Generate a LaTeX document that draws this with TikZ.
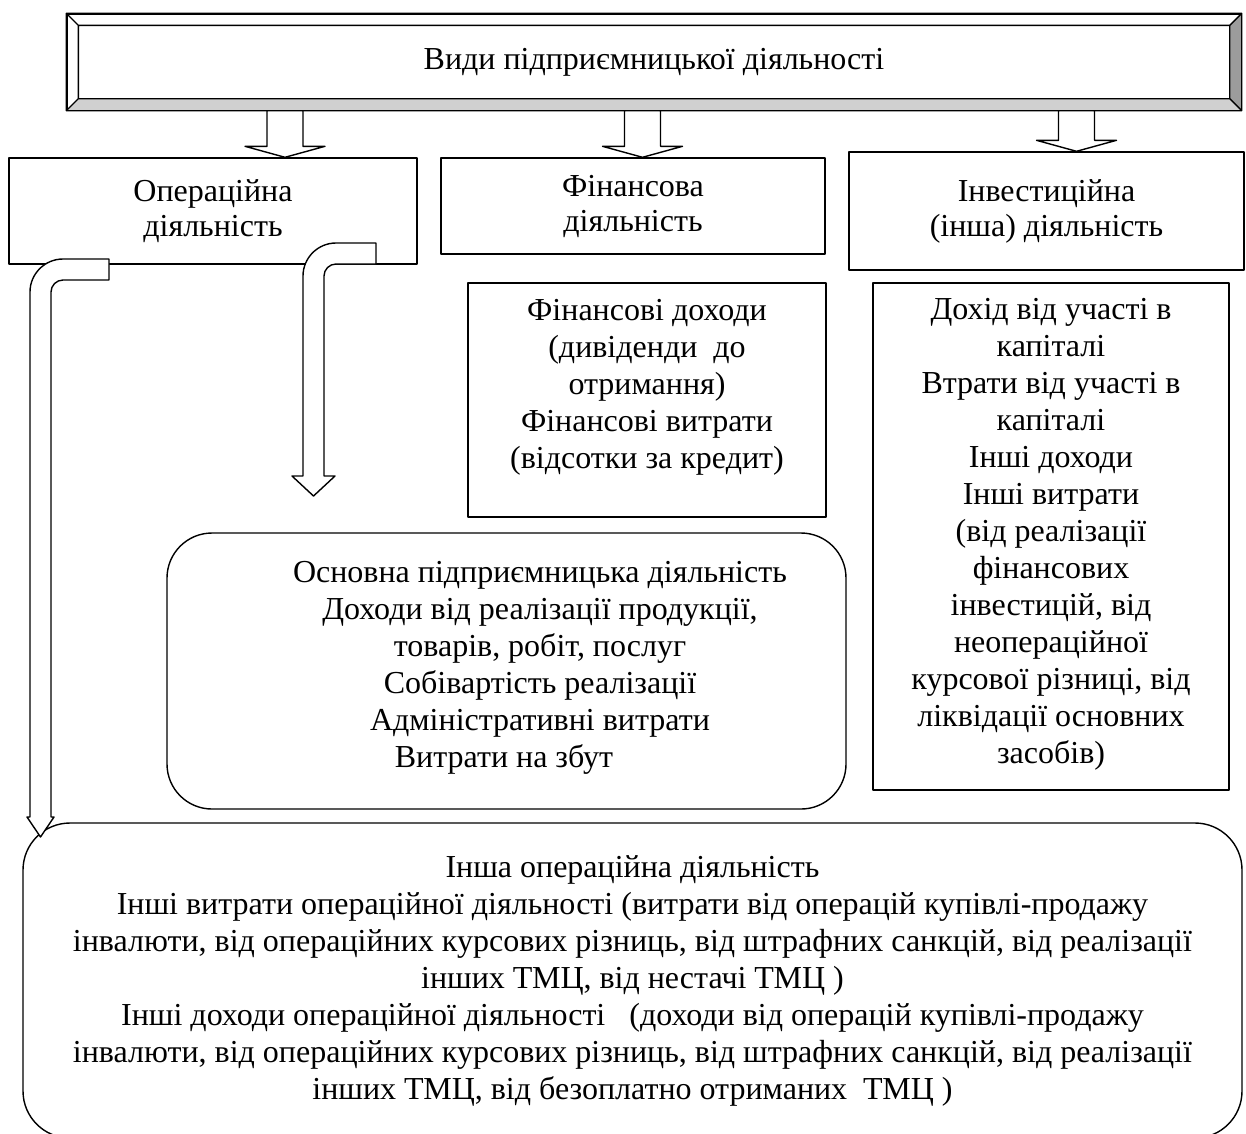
\documentclass[tikz,border=0pt]{standalone}
\usepackage{fontspec}
\setmainfont{Liberation Serif}
\usetikzlibrary{calc}
\definecolor{bevdark}{HTML}{9C9C9C}
\definecolor{bevlight}{HTML}{D0D0D0}
\newcommand\txtsize{\fontsize{32}{37}\selectfont}
\newcommand\dnarrow[3]{\draw[barrow](#2.north -| #3)--++(-40,-11)--++(22,0)--($(#1.south -| #3)+(-18,0)$)--++(36,0)--($(#2.north -| #3)+(18,-11)$)--++(22,0)--cycle;}
\newcommand\bentarrow[3]{\draw[barrow](#1)--($(#1 -| #2)+(22.5,0)$).. controls +(-18.2,0) and +(0,-18.2) ..++(-33,33)--($(#2)+(-10.5,-20)$)--++({-(#3-10.5)},0)--(#2)--++(#3,-20)--++({-(#3-10.5)},0)--($(#1 -| #2)+(10.5,33)$).. controls +(0,-6.6) and +(-6.6,0) ..++(12,-12)--($(#1)+(0,21)$)--cycle;}
\begin{document}
\begin{tikzpicture}[x=1pt,y=-1pt,line join=round,line width=1.4pt,font=\txtsize]
	\tikzset{box/.style={draw,align=center,inner sep=0pt},
	kind/.style={box,font=\fontsize{32}{35}\selectfont},
	rbox/.style={box,rounded corners=#1},
	txt/.style={align=center,inner sep=0pt},
	barrow/.style={draw,fill=white}}
	\useasboundingbox(0,0)rectangle(1246,1133);
	\clip(0,0)rectangle(1246,1133);
	\node[box,minimum width=1174pt,minimum height=96pt](title)at(654,62){Види підприємницької діяльності};
	\coordinate(inw)at($(title.north west)+(12,12)$);
	\coordinate(ine)at($(title.north east)+(-12,12)$);
	\coordinate(isw)at($(title.south west)+(12,-12)$);
	\coordinate(ise)at($(title.south east)+(-12,-12)$);
	\fill[bevdark](title.north east)--(title.south east)--(ise)--(ine)--cycle;
	\fill[bevlight](title.south west)--(title.south east)--(ise)--(isw)--cycle;
	\draw(title.north west)rectangle(title.south east)(inw)rectangle(ise)(title.north west)--(inw)(title.north east)--(ine)(title.south west)--(isw)(title.south east)--(ise);
	\node[kind,minimum width=408pt,minimum height=106pt](op)at(213,211){Операційна\\діяльність};
	\node[kind,minimum width=384pt,minimum height=96pt](fin)at(633,206){Фінансова\\діяльність};
	\node[kind,minimum width=395pt,minimum height=118pt](inv)at(1046.5,211){Інвестиційна\\(інша) діяльність};
	\coordinate(a1)at(285,0);
	\coordinate(a2)at(642.5,0);
	\coordinate(a3)at(1076.5,0);
	\dnarrow{title}{op}{a1}
	\dnarrow{title}{fin}{a2}
	\dnarrow{title}{inv}{a3}
	\node[box,minimum width=358pt,minimum height=234pt](finx)at(647,400){};
	\node[txt](fint)at([yshift=13pt]finx.center){Фінансові доходи\\(дивіденди~ до\\отримання)\\Фінансові витрати\\(відсотки за кредит)};
	\node[box,minimum width=356pt,minimum height=507pt](invx)at(1051,536.5){};
	\node[txt](invt)at([yshift=2pt]invx.center){Дохід від участі в\\капіталі\\Втрати від участі в\\капіталі\\Інші доходи\\Інші витрати\\(від реалізації\\фінансових\\інвестицій, від\\неопераційної\\курсової різниці, від\\ліквідації основних\\засобів)};
	\node[rbox=45pt,minimum width=679pt,minimum height=276pt](main)at(506.5,671){};
	\node[txt](maint)at([xshift=33.5pt,yshift=3pt]main.center){Основна підприємницька діяльність\\Доходи від реалізації продукції,\\товарів, робіт, послуг\hspace*{72pt}\\Собівартість реалізації\hspace*{14pt}\\Адміністративні витрати\hspace*{23pt}\\Витрати на збут\hspace*{72pt}};
	\node[rbox=47pt,minimum width=1219pt,minimum height=315pt](other)at(632.5,980.5){Інша операційна діяльність\\Інші витрати операційної діяльності (витрати від операцій купівлі-продажу\\інвалюти, від операційних курсових різниць, від штрафних санкцій, від реалізації\\інших ТМЦ, від нестачі ТМЦ )\\Інші доходи операційної діяльності~~~(доходи від операцій купівлі-продажу\\інвалюти, від операційних курсових різниць, від штрафних санкцій, від реалізації\\інших ТМЦ, від безоплатно отриманих~ ТМЦ )};
	\coordinate(s1)at(109,259);
	\coordinate(t1)at(40.5,837);
	\coordinate(s2)at(376,243);
	\coordinate(t2)at(313.5,496);
	\bentarrow{s1}{t1}{13.5}
	\bentarrow{s2}{t2}{21.5}
\end{tikzpicture}
\end{document}
